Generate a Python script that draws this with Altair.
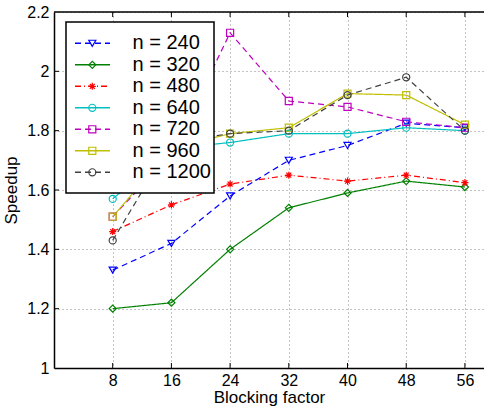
import altair as alt
import pandas as pd

# ---- data ----
blocking = [8, 16, 24, 32, 40, 48, 56]
series_names = ["n = 240", "n = 320", "n = 480", "n = 640", "n = 720", "n = 960", "n = 1200"]
s240 = [1.33, 1.42, 1.58, 1.70, 1.75, 1.825, 1.81]
s320 = [1.20, 1.22, 1.40, 1.54, 1.59, 1.63, 1.61]
s480 = [1.46, 1.55, 1.62, 1.65, 1.63, 1.65, 1.625]
s640 = [1.57, 1.74, 1.76, 1.79, 1.79, 1.81, 1.80]
s720 = [1.51, 1.72, 2.13, 1.90, 1.88, 1.83, 1.81]
s960 = [1.51, 1.74, 1.79, 1.81, 1.925, 1.92, 1.82]
s1200 = [1.43, 1.76, 1.79, 1.80, 1.92, 1.98, 1.80]
all_series = [s240, s320, s480, s640, s720, s960, s1200]

x_ticks = [8, 16, 24, 32, 40, 48, 56]
y_ticks = [1, 1.2, 1.4, 1.6, 1.8, 2.0, 2.2]

# ---- styles ----
colors = ["#0000ff", "#008000", "#ff0000", "#00bfbf", "#bf00bf", "#bfbf00", "#404040"]
dashes = [[6, 4], [1, 0], [6, 3, 1, 3], [1, 0], [6, 4], [1, 0], [6, 4]]
asterisk = "M-1,0L1,0M0,-1L0,1M-0.7,-0.7L0.7,0.7M-0.7,0.7L0.7,-0.7"
shapes = ["triangle-down", "diamond", asterisk, "circle", "square", "square", "circle"]

FONT = "Liberation Sans"
W, H = 430, 356
XDOM = [0, 58.6]
YDOM = [1, 2.2]

rows = []
for name, vals in zip(series_names, all_series):
    for f, v in zip(blocking, vals):
        rows.append({"series": name, "factor": f, "speedup": v})
df = pd.DataFrame(rows)

color_enc = alt.Color("series:N", scale=alt.Scale(domain=series_names, range=colors), legend=None)
dash_enc = alt.StrokeDash("series:N", scale=alt.Scale(domain=series_names, range=dashes), legend=None)
shape_enc = alt.Shape("series:N", scale=alt.Scale(domain=series_names, range=shapes), legend=None)

xscale = alt.Scale(domain=XDOM, nice=False, zero=False)
yscale = alt.Scale(domain=YDOM, nice=False, zero=False)

x_enc = alt.X("factor:Q", scale=xscale, title="Blocking factor",
              axis=alt.Axis(values=x_ticks, grid=True, gridDash=[1, 3], gridColor="#888",
                            gridWidth=1, ticks=False, domainColor="black", domainWidth=1.5,
                            labelFont=FONT, labelFontSize=16, labelColor="black", labelPadding=4,
                            titleFont=FONT, titleFontSize=17, titleFontWeight="normal",
                            titleColor="black", titlePadding=1))
y_enc = alt.Y("speedup:Q", scale=yscale, title="Speedup",
              axis=alt.Axis(values=y_ticks, format="~g", grid=True, gridDash=[1, 3],
                            gridColor="#888", gridWidth=1, ticks=False, domainColor="black",
                            domainWidth=1.5, labelFont=FONT, labelFontSize=16, labelColor="black",
                            labelPadding=5, labelBound=False, labelFlush=False,
                            titleFont=FONT, titleFontSize=17,
                            titleFontWeight="normal", titleColor="black", titlePadding=6))

lines = alt.Chart(df).mark_line(strokeWidth=1.2).encode(
    x=x_enc, y=y_enc, color=color_enc, strokeDash=dash_enc, detail="series:N")
points = alt.Chart(df).mark_point(filled=False, size=50, strokeWidth=1.2, opacity=1).encode(
    x=alt.X("factor:Q", scale=xscale), y=alt.Y("speedup:Q", scale=yscale),
    color=color_enc, shape=shape_enc)

# ---- frame pieces: top border and inward ticks ----
top_border = alt.Chart(pd.DataFrame({"a": [0]})).mark_rule(color="black", strokeWidth=1.5).encode(
    x=alt.value(0), x2=alt.value(W), y=alt.value(0))
xt = pd.DataFrame({"factor": x_ticks})
yt = pd.DataFrame({"speedup": y_ticks[1:-1]})
top_ticks = alt.Chart(xt).mark_rule(color="black", strokeWidth=1).encode(
    x=alt.X("factor:Q", scale=xscale), y=alt.value(0), y2=alt.value(5))
bot_ticks = alt.Chart(xt).mark_rule(color="black", strokeWidth=1).encode(
    x=alt.X("factor:Q", scale=xscale), y=alt.value(H), y2=alt.value(H - 5))
left_ticks = alt.Chart(yt).mark_rule(color="black", strokeWidth=1).encode(
    y=alt.Y("speedup:Q", scale=yscale), x=alt.value(0), x2=alt.value(5))

# ---- legend (drawn inside the plot) ----
def px2x(p):
    return XDOM[0] + p / (W / (XDOM[1] - XDOM[0]))

def px2y(p):
    return YDOM[1] - p / (H / (YDOM[1] - YDOM[0]))

leg_rows = []
for i, name in enumerate(series_names):
    yy = px2y(31.3 + 21.5 * i)
    leg_rows.append({"series": name, "x1": px2x(21), "x2": px2x(56), "xm": px2x(38.3),
                     "xt": px2x(78.5), "y": yy})
leg = pd.DataFrame(leg_rows)

leg_box = alt.Chart(pd.DataFrame({"a": [0]})).mark_rect(
    fill="white", stroke="black", strokeWidth=1.5).encode(
    x=alt.value(12), x2=alt.value(160), y=alt.value(10), y2=alt.value(181))
leg_lines = alt.Chart(leg).mark_rule(strokeWidth=1.4).encode(
    x=alt.X("x1:Q", scale=xscale), x2="x2:Q", y=alt.Y("y:Q", scale=yscale),
    color=color_enc, strokeDash=dash_enc)
leg_pts = alt.Chart(leg).mark_point(filled=False, size=50, strokeWidth=1.2, opacity=1).encode(
    x=alt.X("xm:Q", scale=xscale), y=alt.Y("y:Q", scale=yscale),
    color=color_enc, shape=shape_enc)
leg_text = alt.Chart(leg).mark_text(align="left", baseline="middle", font=FONT,
                                    fontSize=20, color="black").encode(
    x=alt.X("xt:Q", scale=xscale), y=alt.Y("y:Q", scale=yscale), text="series:N")

chart = alt.layer(
    lines, points, top_border, top_ticks, bot_ticks, left_ticks,
    leg_box, leg_lines, leg_pts, leg_text
).properties(
    width=W, height=H,
    autosize=alt.AutoSizeParams(type="none"),
    padding={"left": 54, "top": 12, "right": 0, "bottom": 42},
    background="white",
).configure_view(stroke=None)

chart.save("out.html", embed_options={"renderer": "svg", "actions": False})
